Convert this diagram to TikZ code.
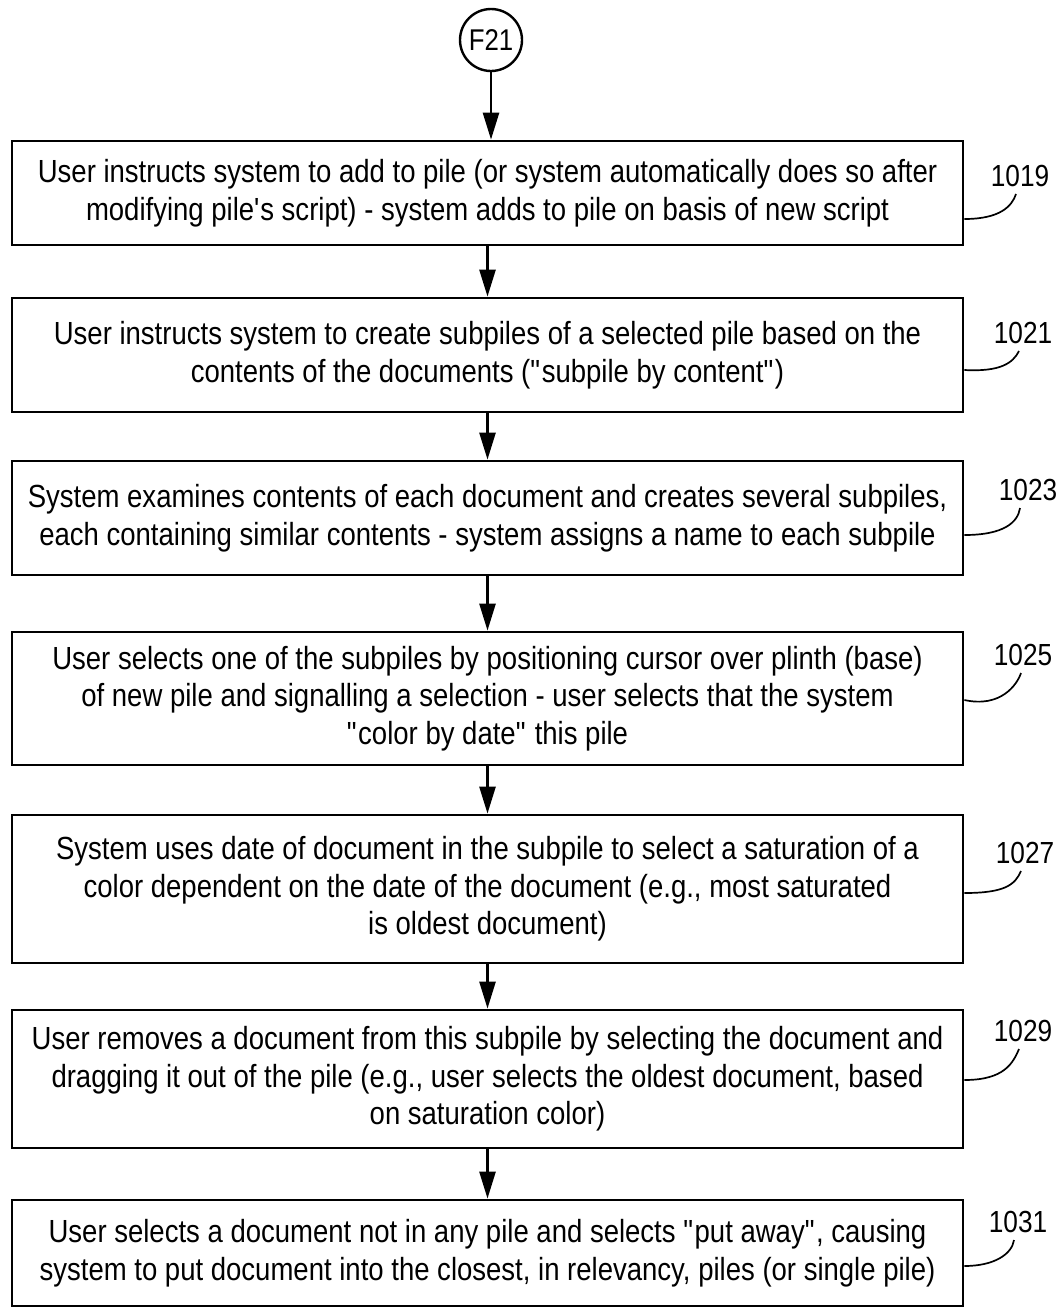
\documentclass[tikz,border=0pt]{standalone}
\usepackage{fontspec}
\setmainfont{Liberation Sans}[FakeStretch=0.86]
\usetikzlibrary{arrows.meta}
\begin{document}
\begin{tikzpicture}[x=1pt,y=-1pt,
  box/.style={draw,line width=2.8pt,minimum width=951pt,align=center,
    font=\fontsize{32}{37.5}\selectfont,inner sep=0pt},
  flow/.style={line width=2.6pt,-{Triangle[width=16pt,length=27pt]}},
  lead/.style={line width=1.7pt},
  lbl/.style={font=\fontsize{30.5}{32}\selectfont,inner sep=1pt}]
\useasboundingbox[fill=white] (0,0) rectangle (1062,1310);

\node[draw,circle,line width=2.4pt,minimum size=62pt,inner sep=0pt,
  font=\fontsize{30}{32}\selectfont] (f21) at (491,40) {F21};

\node[box,minimum height=104pt] (b1) at (487.5,193)
 {User instructs system to add to pile (or system automatically does so after\\
  modifying pile\textquotesingle s script) - system adds to pile on basis of new script};
\node[box,minimum height=114pt] (b2) at (487.5,355)
 {User instructs system to create subpiles of a selected pile based on the\\
  contents of the documents (\textquotedbl subpile by content\textquotedbl)};
\node[box,minimum height=114pt] (b3) at (487.5,518)
 {System examines contents of each document and creates several subpiles,\\
  each containing similar contents - system assigns a name to each subpile};
\node[box,minimum height=133pt] (b4) at (487.5,698.5)
 {User selects one of the subpiles by positioning cursor over plinth (base)\\
  of new pile and signalling a selection - user selects that the system\\
  \textquotedbl color by date\textquotedbl{} this pile};
\node[box,minimum height=148pt] (b5) at (487.5,889)
 {System uses date of document in the subpile to select a saturation of a\\
  color dependent on the date of the document (e.g., most saturated\\
  is oldest document)};
\node[box,minimum height=138pt] (b6) at (487.5,1079)
 {User removes a document from this subpile by selecting the document and\\
  dragging it out of the pile (e.g., user selects the oldest document, based\\
  on saturation color)};
\node[box,minimum height=106pt] (b7) at (487.5,1253)
 {User selects a document not in any pile and selects \textquotedbl put away\textquotedbl, causing\\
  system to put document into the closest, in relevancy, piles (or single pile)};

\draw[flow] (f21) -- (f21 |- b1.north);
\draw[flow] (b1) -- (b2);
\draw[flow] (b2) -- (b3);
\draw[flow] (b3) -- (b4);
\draw[flow] (b4) -- (b5);
\draw[flow] (b5) -- (b6);
\draw[flow] (b6) -- (b7);

\node[lbl] (l1) at (1020,176) {1019};
\node[lbl] (l2) at (1023,333) {1021};
\node[lbl] (l3) at (1028,490) {1023};
\node[lbl] (l4) at (1023,655) {1025};
\node[lbl] (l5) at (1025,853) {1027};
\node[lbl] (l6) at (1023,1031) {1029};
\node[lbl] (l7) at (1018,1222) {1031};

\draw[lead] ([yshift=-26pt]b1.east) .. controls +(36,0) and +(-4,12) .. ([xshift=-4pt,yshift=-6pt]l1.south);
\draw[lead] ([yshift=-15pt]b2.east) .. controls +(36,2) and +(-6,12) .. ([xshift=-4pt,yshift=-6pt]l2.south);
\draw[lead] ([yshift=-17pt]b3.east) .. controls +(40,0) and +(-2,14) .. ([xshift=-8pt,yshift=-6pt]l3.south);
\draw[lead] ([yshift=-1.5pt]b4.east) .. controls +(36,8) and +(-4,12) .. ([xshift=-2pt,yshift=-6pt]l4.south);
\draw[lead] ([yshift=-4pt]b5.east) .. controls +(40,0) and +(-6,14) .. ([xshift=-4pt,yshift=-6pt]l5.south);
\draw[lead] ([yshift=-1pt]b6.east) .. controls +(40,0) and +(-6,14) .. ([xshift=-4pt,yshift=-6pt]l6.south);
\draw[lead] ([yshift=-13pt]b7.east) .. controls +(30,0) and +(-2,14) .. ([xshift=-4pt,yshift=-6pt]l7.south);
\end{tikzpicture}
\end{document}
